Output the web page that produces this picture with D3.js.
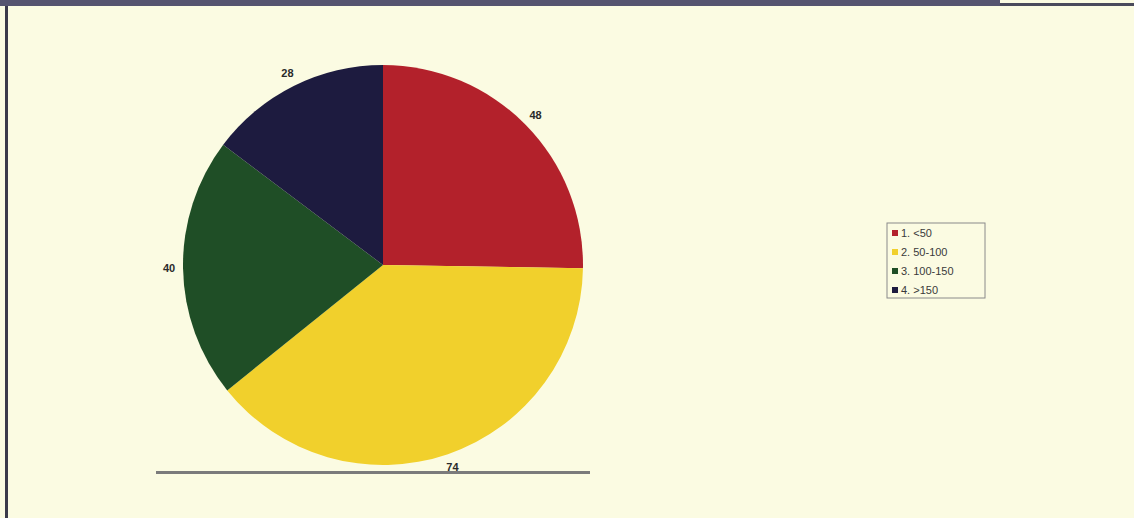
<!DOCTYPE html>
<html>
<head>
<meta charset="utf-8">
<script src="https://cdn.jsdelivr.net/npm/d3@7"></script>
<style>
  html, body { margin: 0; padding: 0; background: #fbfbe2; }
  svg { display: block; }
</style>
</head>
<body>
<svg id="chart" width="1134" height="518"></svg>
<script>
// Distribution across four size classes
const categories = ["1. <50", "2. 50-100", "3. 100-150", "4. >150"];
const values = [48, 74, 40, 28];
const colors = ["#b3212b", "#f1d02c", "#1f4e26", "#1d1b3f"];

const svg = d3.select("#chart");
const W = 1134, H = 518;

// page background and frame
svg.append("rect").attr("width", W).attr("height", H).attr("fill", "#fbfbe2");
svg.append("rect").attr("x", 0).attr("y", 0).attr("width", 1000).attr("height", 6).attr("fill", "#55546f");
svg.append("rect").attr("x", 1000).attr("y", 3).attr("width", 134).attr("height", 3).attr("fill", "#4a4a5c");
svg.append("rect").attr("x", 5).attr("y", 6).attr("width", 3).attr("height", H - 6).attr("fill", "#3b3a4a");

// pie
const cx = 383, cy = 265, R = 200;
const pie = d3.pie().sort(null).value(d => d.v);
const data = categories.map((c, i) => ({ c, v: values[i], col: colors[i] }));
const arcs = pie(data);
const arc = d3.arc().innerRadius(0).outerRadius(R);
const labelArc = d3.arc().innerRadius(214).outerRadius(214);

const g = svg.append("g").attr("transform", `translate(${cx},${cy})`);
g.selectAll("path.slice").data(arcs).join("path")
  .attr("class", "slice")
  .attr("d", arc)
  .attr("fill", d => d.data.col);

g.selectAll("text.val").data(arcs).join("text")
  .attr("class", "val")
  .attr("transform", d => `translate(${labelArc.centroid(d)})`)
  .attr("text-anchor", "middle")
  .attr("dy", "0.35em")
  .attr("font-family", "Liberation Sans, Arial, sans-serif")
  .attr("font-size", 11)
  .attr("font-weight", "bold")
  .attr("fill", "#2a2a2a")
  .text(d => d.data.v);

// baseline under the pie
svg.append("rect").attr("x", 156).attr("y", 471).attr("width", 434).attr("height", 3).attr("fill", "#7b7b7b");

// legend
const lg = svg.append("g").attr("transform", "translate(887,223)");
lg.append("rect").attr("width", 98).attr("height", 75)
  .attr("fill", "#fbfbe2").attr("stroke", "#8a8a8a").attr("stroke-width", 1);
const rows = lg.selectAll("g.row").data(data).join("g")
  .attr("class", "row")
  .attr("transform", (d, i) => `translate(0,${10 + i * 19})`);
rows.append("rect").attr("x", 5).attr("y", -3).attr("width", 6).attr("height", 6)
  .attr("fill", d => d.col);
rows.append("text").attr("x", 14).attr("dy", "0.35em")
  .attr("font-family", "Liberation Sans, Arial, sans-serif")
  .attr("font-size", 11)
  .attr("fill", "#3a3a3a")
  .text(d => d.c);
</script>
</body>
</html>
